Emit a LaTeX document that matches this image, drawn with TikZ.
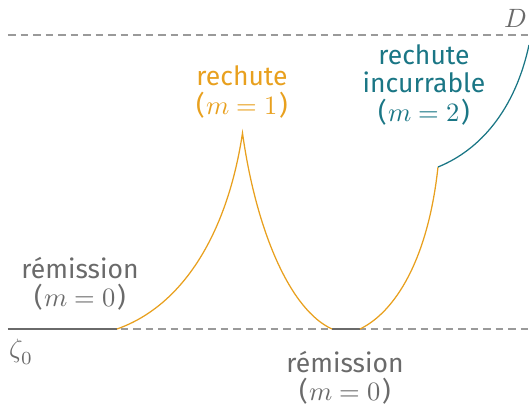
\documentclass[tikz,border=0pt]{standalone}
\usepackage{fontspec}
\setmainfont{Fira Sans}
\setsansfont{Fira Sans}
\usepackage{unicode-math}
\setmathfont{Latin Modern Math}
\definecolor{orangeC}{HTML}{E8A01E}
\definecolor{tealC}{HTML}{1A7685}
\definecolor{grayT}{HTML}{6A6A6A}
\definecolor{grayL}{HTML}{9A9A9A}
\newcommand{\mlab}[1]{(\kern0.5pt$m=#1$\kern0.5pt)}
\begin{document}
\begin{tikzpicture}[x=0.4pt,y=-0.4pt,
  lbl/.style={align=center,font=\fontsize{10.6}{11.4}\selectfont,inner sep=0pt},
  dashline/.style={grayL,line width=0.6pt,dash pattern=on 3pt off 2pt},
  flat/.style={grayT,line width=0.6pt},
  curveO/.style={orangeC,line width=0.5pt},
  curveT/.style={tealC,line width=0.5pt}]
\useasboundingbox (0,0) rectangle (529,407);
% levels
\coordinate (l0) at (8,329);
\coordinate (r0) at (529,329);
\coordinate (lD) at (8,35);
\coordinate (rD) at (529,35);
\draw[dashline] (l0) -- (r0);
\draw[dashline] (lD) -- (rD);
% points
\coordinate (a) at (117,329);
\coordinate (p) at (242.5,133);
\coordinate (b) at (332,329);
\coordinate (c) at (360,329);
\coordinate (q) at (438,167);
\coordinate (e) at (529,45);
\draw[flat] (l0) -- (a);
\draw[flat] (b) -- (c);
\draw[curveO] (a) .. controls (185,305) and (228,230) .. (p)
              .. controls (256,230) and (290,310) .. (b);
\draw[curveO] (c) .. controls (395,312) and (428,260) .. (q);
\draw[curveT] (q) .. controls (480,150) and (515,110) .. (e);
% labels
\node[lbl,text=grayT] (rem1) at (80,284) {rémission\\\mlab{0}};
\node[lbl,text=orangeC] (rech1) at (242,92) {rechute\\\mlab{1}};
\node[lbl,text=tealC] (rech2) at (424,85) {rechute\\incurrable\\\mlab{2}};
\node[lbl,text=grayT] (rem2) at (345,378) {rémission\\\mlab{0}};
\node[lbl,text=grayT,anchor=west] (z0) at (9,352) {$\zeta_0$};
\node[lbl,text=grayT,anchor=east] (D) at (527,18) {$D$};
\end{tikzpicture}
\end{document}
